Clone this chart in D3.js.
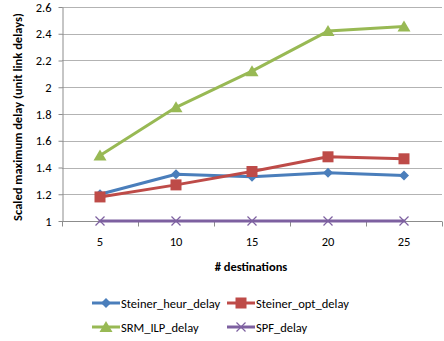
<!DOCTYPE html>
<html>
<head>
<meta charset="utf-8">
<script src="https://cdn.jsdelivr.net/npm/d3@7"></script>
<style>
  html, body { margin: 0; padding: 0; background: #fff; }
  svg { display: block; font-family: Carlito, "Liberation Sans", Arial, sans-serif; }
</style>
</head>
<body>
<svg id="chart" width="444" height="341"></svg>
<script>
// Number of destinations on the x axis
const destinations = [5, 10, 15, 20, 25];

// Scaled maximum delay per algorithm
const steinerHeur = [1.20, 1.35, 1.33, 1.36, 1.34];
const steinerOpt  = [1.18, 1.27, 1.37, 1.48, 1.465];
const srmIlp      = [1.49, 1.85, 2.12, 2.42, 2.455];
const spf         = [1.00, 1.00, 1.00, 1.00, 1.00];

const yTicks = [1, 1.2, 1.4, 1.6, 1.8, 2, 2.2, 2.4, 2.6];

const series = [
  { name: "Steiner_heur_delay", values: steinerHeur, color: "#4a7ebb", marker: "diamond" },
  { name: "Steiner_opt_delay",  values: steinerOpt,  color: "#be4b48", marker: "square" },
  { name: "SRM_ILP_delay",      values: srmIlp,      color: "#98b954", marker: "triangle" },
  { name: "SPF_delay",          values: spf,         color: "#7d60a0", marker: "cross" }
];

const FS = 12.5;
const svg = d3.select("#chart");
const plot = { left: 62, right: 442, top: 7, bottom: 221 };

const x = d3.scaleBand().domain(destinations).range([plot.left, plot.right]);
const y = d3.scaleLinear().domain([1, 2.6]).range([plot.bottom, plot.top]);

// Horizontal gridlines
svg.append("g").selectAll("line").data(yTicks.filter(d => d > 1)).join("line")
  .attr("x1", plot.left).attr("x2", plot.right)
  .attr("y1", d => Math.round(y(d)) + 0.5).attr("y2", d => Math.round(y(d)) + 0.5)
  .attr("stroke", "#b3b3b3").attr("stroke-width", 1);

// Y axis
const yAxis = svg.append("g")
  .attr("transform", `translate(${plot.left + 0.5},0)`)
  .call(d3.axisLeft(y).tickValues(yTicks).tickFormat(d3.format("~g")).tickSize(4).tickSizeOuter(0));
yAxis.select(".domain").attr("stroke", "#8c8c8c");
yAxis.selectAll(".tick line").attr("stroke", "#8c8c8c");
yAxis.selectAll(".tick text").attr("x", -11).attr("font-size", FS).attr("fill", "#000")
  .style("font-family", 'Carlito, "Liberation Sans", Arial, sans-serif');

// X axis with tick marks at band boundaries
const xAxisG = svg.append("g").attr("transform", `translate(0,${plot.bottom + 0.5})`);
xAxisG.append("line").attr("x1", plot.left).attr("x2", plot.right)
  .attr("stroke", "#8c8c8c");
const boundaries = destinations.map(d => x(d)).concat([x(destinations[destinations.length - 1]) + x.bandwidth()]);
xAxisG.selectAll("line.tk").data(boundaries).join("line").attr("class", "tk")
  .attr("x1", d => Math.round(d) + 0.5).attr("x2", d => Math.round(d) + 0.5)
  .attr("y1", 0).attr("y2", 5).attr("stroke", "#8c8c8c");
xAxisG.selectAll("text").data(destinations).join("text")
  .attr("x", d => x(d) + x.bandwidth() / 2).attr("y", 24)
  .attr("text-anchor", "middle").attr("font-size", FS).attr("fill", "#000")
  .text(d => d);

// Axis titles
svg.append("text")
  .attr("x", (plot.left + plot.right) / 2 - 1).attr("y", 271)
  .attr("text-anchor", "middle").attr("font-size", FS).attr("font-weight", "bold")
  .text("# destinations");
svg.append("text")
  .attr("transform", `translate(22,${(plot.top + plot.bottom) / 2 + 3}) rotate(-90)`)
  .attr("text-anchor", "middle").attr("font-size", FS).attr("font-weight", "bold")
  .text("Scaled maximum delay (unit link delays)");

// Marker drawing helper
function drawMarker(g, type, color, cx, cy) {
  if (type === "diamond") {
    g.append("path").attr("d", `M${cx},${cy - 5}L${cx + 5},${cy}L${cx},${cy + 5}L${cx - 5},${cy}Z`).attr("fill", color);
  } else if (type === "square") {
    g.append("rect").attr("x", cx - 5.5).attr("y", cy - 5.5).attr("width", 11).attr("height", 11).attr("fill", color);
  } else if (type === "triangle") {
    g.append("path").attr("d", `M${cx},${cy - 6}L${cx + 6.5},${cy + 5}L${cx - 6.5},${cy + 5}Z`).attr("fill", color);
  } else if (type === "cross") {
    g.append("path").attr("d", `M${cx - 4.5},${cy - 4.5}L${cx + 4.5},${cy + 4.5}M${cx + 4.5},${cy - 4.5}L${cx - 4.5},${cy + 4.5}`)
      .attr("stroke", color).attr("stroke-width", 1.2).attr("fill", "none");
  }
}

const line = d3.line()
  .x((d, i) => x(destinations[i]) + x.bandwidth() / 2)
  .y(d => y(d));

// Series lines and markers
series.forEach(s => {
  const g = svg.append("g");
  g.append("path").datum(s.values).attr("d", line)
    .attr("fill", "none").attr("stroke", s.color).attr("stroke-width", 3)
    .attr("stroke-linejoin", "round").attr("stroke-linecap", "round");
  s.values.forEach((v, i) => drawMarker(g, s.marker, s.color, x(destinations[i]) + x.bandwidth() / 2, y(v)));
});

// Legend
const legendPos = [
  { lx: 92, ty: 303 }, { lx: 227, ty: 303 },
  { lx: 92, ty: 327 }, { lx: 227, ty: 327 }
];
series.forEach((s, i) => {
  const p = legendPos[i];
  const g = svg.append("g");
  g.append("line").attr("x1", p.lx).attr("x2", p.lx + 28).attr("y1", p.ty).attr("y2", p.ty)
    .attr("stroke", s.color).attr("stroke-width", 3);
  drawMarker(g, s.marker, s.color, p.lx + 14, p.ty);
  g.append("text").attr("x", p.lx + 29).attr("y", p.ty + 4.5)
    .attr("font-size", FS).attr("fill", "#000").text(s.name);
});
</script>
</body>
</html>
